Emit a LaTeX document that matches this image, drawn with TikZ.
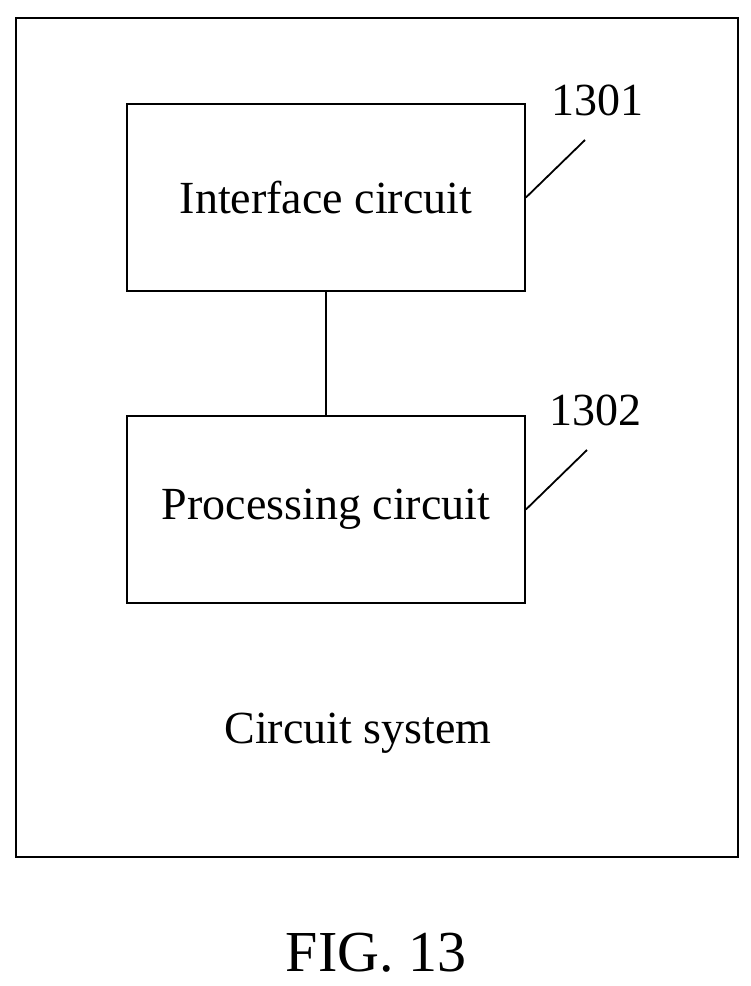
\documentclass[tikz,border=0pt]{standalone}
\usepackage{fontspec}
\setmainfont{Liberation Serif}
\begin{document}
\begin{tikzpicture}[x=1pt,y=-1pt,
  box/.style={draw,line width=1.8pt,minimum width=398pt,minimum height=187pt,font=\fontsize{46}{50}\selectfont},
  lbl/.style={font=\fontsize{46}{50}\selectfont},
  ln/.style={line width=1.8pt}]
\useasboundingbox (0,0) rectangle (751,986);
\node[draw,line width=1.8pt,minimum width=722pt,minimum height=839pt,anchor=north west] (sys) at (15,17) {};
\node[box] (ic) at (326,197.5) {Interface circuit};
\node[box] (pc) at (326,509.5) {Processing circuit};
\draw[ln] (ic.south) -- (pc.north);
\node[lbl] (l1) at (597,100) {1301};
\node[lbl] (l2) at (595,410) {1302};
\coordinate (a1) at (585,140);
\coordinate (a2) at (587,450);
\draw[ln] (ic.east) -- (a1);
\draw[ln] (pc.east) -- (a2);
\node[lbl] (cs) at (358,733) {Circuit system};
\node[font=\fontsize{58}{62}\selectfont] (fig) at (376,953) {FIG. 13};
\end{tikzpicture}
\end{document}
